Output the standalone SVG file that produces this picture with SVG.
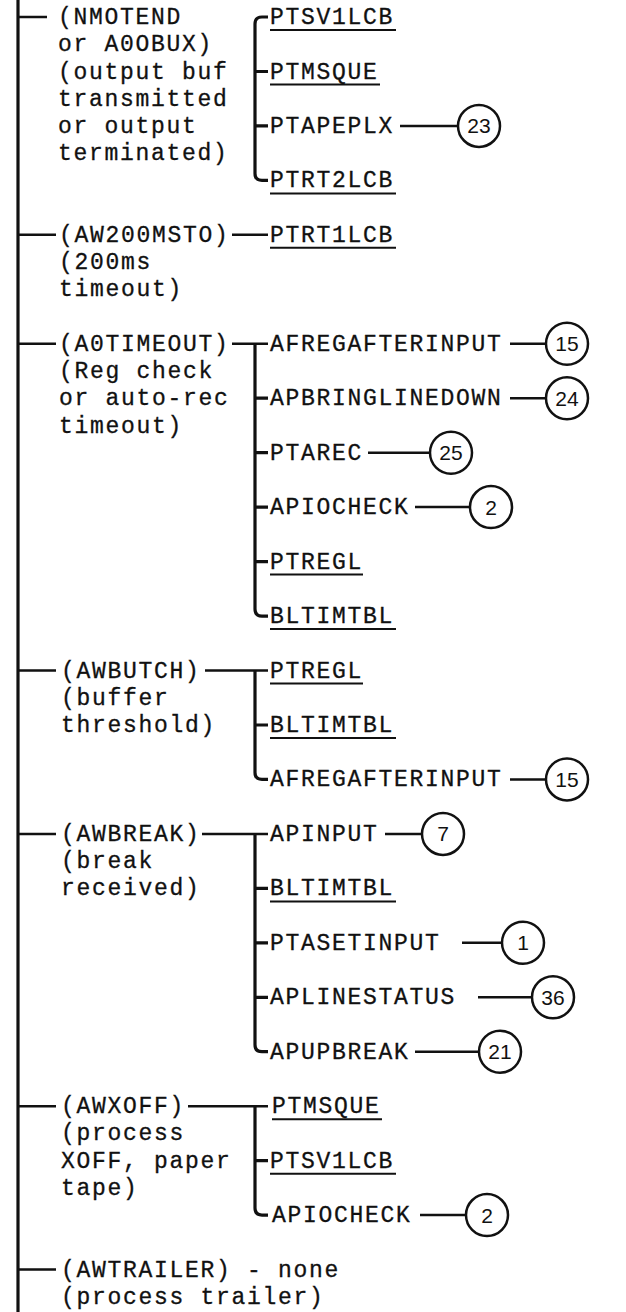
<svg xmlns="http://www.w3.org/2000/svg" width="626" height="1312" viewBox="0 0 626 1312">
<style>
.t{font-family:"Liberation Mono","DejaVu Sans Mono",monospace;font-size:23px;letter-spacing:1.7px;fill:#111;stroke:#111;stroke-width:0.3}
.n{font-family:"Liberation Sans","DejaVu Sans",sans-serif;font-size:21px;fill:#111;text-anchor:middle}
.c{fill:#fff;stroke:#111;stroke-width:2.5}
.l{fill:none;stroke:#111;stroke-width:2.5;stroke-linecap:butt}
.m{fill:none;stroke:#111;stroke-width:3.2}
.u{stroke:#111;stroke-width:2}
</style>
<rect width="626" height="1312" fill="#fff"/>
<g id="connectors">
<line class="m" x1="18" y1="0" x2="18" y2="1312"/>
<path class="l" d="M18 17H47M18 234.8H56M18 343.8H56M18 670.5H56M18 833.9H56M18 1106.2H56M18 1269.6H56"/>
<path class="m" d="M268 17H262Q255 17 255 24V173.4Q255 180.4 262 180.4H268M255 71.5H268M255 125.9H268"/>
<path class="l" d="M232 234.8H268"/>
<path class="l" d="M232 343.8H268"/>
<path class="m" d="M255 343.8V609Q255 616.1 262 616.1H268M255 398.2H268M255 452.7H268M255 507.1H268M255 561.6H268"/>
<path class="l" d="M205 670.5H268"/>
<path class="m" d="M255 670.5V772.4Q255 779.4 262 779.4H268M255 725H268"/>
<path class="l" d="M202 833.9H268"/>
<path class="m" d="M255 833.9V1044.7Q255 1051.7 262 1051.7H268M255 888.4H268M255 942.8H268M255 997.3H268"/>
<path class="l" d="M188 1106.2H268"/>
<path class="m" d="M255 1106.2V1208.1Q255 1215.1 262 1215.1H268M255 1160.7H268"/>
<path class="l" d="M400 125.9H458M510 343.8H546M510 398.2H546M368 452.7H430M415 507.1H470M510 779.4H546M385 833.9H422M462 942.8H502M478 997.3H532M415 1051.7H479M420 1215.1H466"/>
</g>
<g id="n-nmotend"><text class="t" x="58" y="24">(NMOTEND</text><text class="t" x="58" y="51.2">or A0OBUX)</text><text class="t" x="58" y="78.5">(output buf</text><text class="t" x="58" y="105.7">transmitted</text><text class="t" x="58" y="132.9">or output</text><text class="t" x="58" y="160.2">terminated)</text></g>
<g id="n-ptsv1lcb-a"><text class="t" x="270" y="24">PTSV1LCB</text><line class="u" x1="270" y1="30" x2="396" y2="30"/></g>
<g id="n-ptmsque-a"><text class="t" x="270" y="78.5">PTMSQUE</text><line class="u" x1="270" y1="84.5" x2="380" y2="84.5"/></g>
<g id="n-ptapeplx"><text class="t" x="270" y="132.9">PTAPEPLX</text></g>
<g id="c-23"><circle class="c" cx="479" cy="125.9" r="21"/><text class="n" x="479" y="133.4">23</text></g>
<g id="n-ptrt2lcb"><text class="t" x="270" y="187.4">PTRT2LCB</text><line class="u" x1="270" y1="193.4" x2="396" y2="193.4"/></g>
<g id="n-aw200msto"><text class="t" x="59" y="241.8">(AW200MSTO)</text><text class="t" x="59" y="269.1">(200ms</text><text class="t" x="59" y="296.3">timeout)</text></g>
<g id="n-ptrt1lcb"><text class="t" x="270" y="241.8">PTRT1LCB</text><line class="u" x1="270" y1="247.8" x2="396" y2="247.8"/></g>
<g id="n-a0timeout"><text class="t" x="59" y="350.8">(A0TIMEOUT)</text><text class="t" x="59" y="378">(Reg check</text><text class="t" x="59" y="405.2">or auto-rec</text><text class="t" x="59" y="432.5">timeout)</text></g>
<g id="n-afregafterinput-a"><text class="t" x="270" y="350.8">AFREGAFTERINPUT</text></g>
<g id="c-15a"><circle class="c" cx="567" cy="343.8" r="21"/><text class="n" x="567" y="351.3">15</text></g>
<g id="n-apbringlinedown"><text class="t" x="270" y="405.2">APBRINGLINEDOWN</text></g>
<g id="c-24"><circle class="c" cx="567" cy="398.2" r="21"/><text class="n" x="567" y="405.7">24</text></g>
<g id="n-ptarec"><text class="t" x="270" y="459.7">PTAREC</text></g>
<g id="c-25"><circle class="c" cx="451" cy="452.7" r="21"/><text class="n" x="451" y="460.2">25</text></g>
<g id="n-apiocheck-a"><text class="t" x="270" y="514.1">APIOCHECK</text></g>
<g id="c-2a"><circle class="c" cx="491" cy="507.1" r="21"/><text class="n" x="491" y="514.6">2</text></g>
<g id="n-ptregl-a"><text class="t" x="270" y="568.6">PTREGL</text><line class="u" x1="270" y1="574.6" x2="363" y2="574.6"/></g>
<g id="n-bltimtbl-a"><text class="t" x="270" y="623.1">BLTIMTBL</text><line class="u" x1="270" y1="629.1" x2="396" y2="629.1"/></g>
<g id="n-awbutch"><text class="t" x="61" y="677.5">(AWBUTCH)</text><text class="t" x="61" y="704.8">(buffer</text><text class="t" x="61" y="732">threshold)</text></g>
<g id="n-ptregl-b"><text class="t" x="270" y="677.5">PTREGL</text><line class="u" x1="270" y1="683.5" x2="363" y2="683.5"/></g>
<g id="n-bltimtbl-b"><text class="t" x="270" y="732">BLTIMTBL</text><line class="u" x1="270" y1="738" x2="396" y2="738"/></g>
<g id="n-afregafterinput-b"><text class="t" x="270" y="786.4">AFREGAFTERINPUT</text></g>
<g id="c-15b"><circle class="c" cx="567" cy="779.4" r="21"/><text class="n" x="567" y="786.9">15</text></g>
<g id="n-awbreak"><text class="t" x="61" y="840.9">(AWBREAK)</text><text class="t" x="61" y="868.1">(break</text><text class="t" x="61" y="895.4">received)</text></g>
<g id="n-apinput"><text class="t" x="270" y="840.9">APINPUT</text></g>
<g id="c-7"><circle class="c" cx="443" cy="833.9" r="21"/><text class="n" x="443" y="841.4">7</text></g>
<g id="n-bltimtbl-c"><text class="t" x="270" y="895.4">BLTIMTBL</text><line class="u" x1="270" y1="901.4" x2="396" y2="901.4"/></g>
<g id="n-ptasetinput"><text class="t" x="270" y="949.8">PTASETINPUT</text></g>
<g id="c-1"><circle class="c" cx="523" cy="942.8" r="21"/><text class="n" x="523" y="950.3">1</text></g>
<g id="n-aplinestatus"><text class="t" x="270" y="1004.3">APLINESTATUS</text></g>
<g id="c-36"><circle class="c" cx="553" cy="997.3" r="21"/><text class="n" x="553" y="1004.8">36</text></g>
<g id="n-apupbreak"><text class="t" x="270" y="1058.7">APUPBREAK</text></g>
<g id="c-21"><circle class="c" cx="500" cy="1051.7" r="21"/><text class="n" x="500" y="1059.2">21</text></g>
<g id="n-awxoff"><text class="t" x="61" y="1113.2">(AWXOFF)</text><text class="t" x="61" y="1140.4">(process</text><text class="t" x="61" y="1167.7">XOFF, paper</text><text class="t" x="61" y="1194.9">tape)</text></g>
<g id="n-ptmsque-b"><text class="t" x="272" y="1113.2">PTMSQUE</text><line class="u" x1="272" y1="1119.2" x2="382" y2="1119.2"/></g>
<g id="n-ptsv1lcb-b"><text class="t" x="270" y="1167.7">PTSV1LCB</text><line class="u" x1="270" y1="1173.7" x2="396" y2="1173.7"/></g>
<g id="n-apiocheck-b"><text class="t" x="272" y="1222.1">APIOCHECK</text></g>
<g id="c-2b"><circle class="c" cx="487" cy="1215.1" r="21"/><text class="n" x="487" y="1222.6">2</text></g>
<g id="n-awtrailer"><text class="t" x="61" y="1276.6">(AWTRAILER) - none</text><text class="t" x="61" y="1303.8">(process trailer)</text></g>
</svg>
